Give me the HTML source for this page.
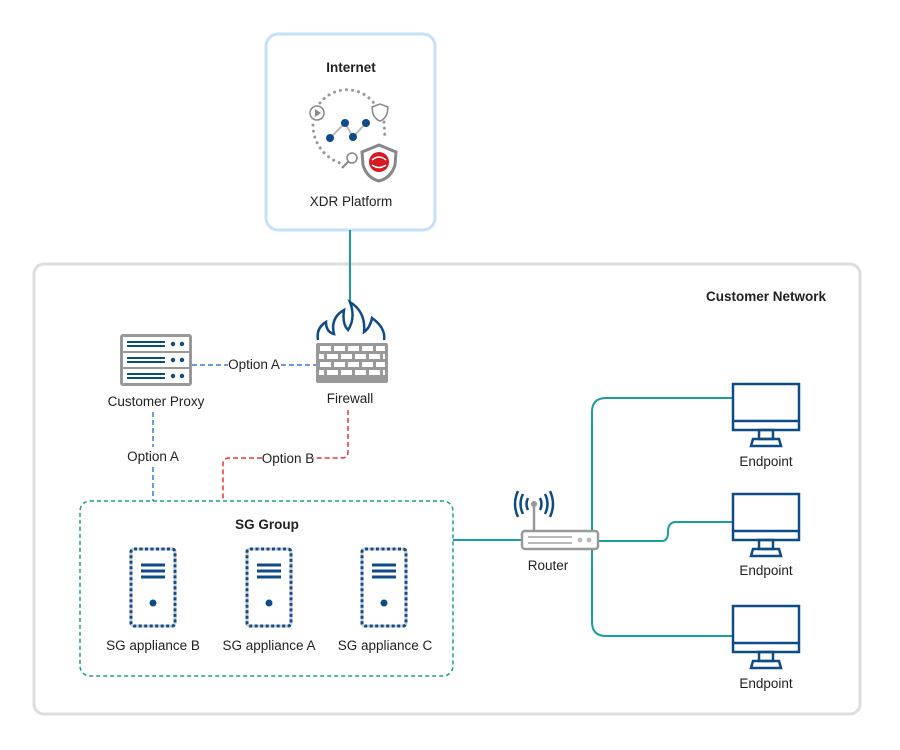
<!DOCTYPE html>
<html><head><meta charset="utf-8"><style>
html,body{margin:0;padding:0;background:#fff}
svg{display:block}
text{font-family:"Liberation Sans",sans-serif;fill:#222;font-size:13.5px}
</style></head><body>
<svg width="900" height="750" viewBox="0 0 900 750" xmlns="http://www.w3.org/2000/svg">
<defs>
<g id="mon">
<rect x="0" y="0" width="66" height="46" fill="#fff" stroke="#0f4c87" stroke-width="2.5"/>
<line x1="0" y1="37" x2="66" y2="37" stroke="#0f4c87" stroke-width="2.5"/>
<rect x="26" y="46" width="14" height="9" fill="none" stroke="#0f4c87" stroke-width="2.5"/>
<path d="M18 62 L48 62 L46 55 L20 55 Z" fill="none" stroke="#0f4c87" stroke-width="2.5"/>
</g>
<g id="app">
<rect x="0" y="0" width="44" height="77" rx="3" fill="#fff" stroke="#ccc" stroke-width="3"/>
<rect x="0" y="0" width="44" height="77" rx="3" fill="none" stroke="#0f4c87" stroke-width="3" stroke-dasharray="3 2.5"/>
<line x1="10" y1="16" x2="34" y2="16" stroke="#0f4c87" stroke-width="3"/>
<line x1="10" y1="22" x2="34" y2="22" stroke="#0f4c87" stroke-width="3"/>
<line x1="10" y1="28" x2="34" y2="28" stroke="#0f4c87" stroke-width="3"/>
<circle cx="22" cy="54" r="3.5" fill="#0f4c87"/>
</g>
</defs>

<rect x="34" y="264" width="826" height="450" rx="10" fill="#fff" stroke="#ddd" stroke-width="3"/>
<text x="826" y="301" text-anchor="end" font-weight="bold" font-size="14.5">Customer Network</text>

<rect x="266" y="34" width="169" height="196" rx="12" fill="#fff" stroke="#c5e0fa" stroke-width="3"/>
<text x="351" y="72" text-anchor="middle" font-weight="bold" font-size="15">Internet</text>
<text x="351" y="206" text-anchor="middle">XDR Platform</text>
<path d="M320 103 A34 34 0 0 1 378 110" fill="none" stroke="#999" stroke-width="3" stroke-dasharray="0.1 6" stroke-linecap="round"/>
<path d="M313 125 A40 40 0 0 0 340 163" fill="none" stroke="#999" stroke-width="3" stroke-dasharray="0.1 6" stroke-linecap="round"/>
<path d="M384 122 L385 138" fill="none" stroke="#999" stroke-width="3" stroke-dasharray="0.1 6" stroke-linecap="round"/>
<circle cx="317" cy="113" r="7" fill="#fff" stroke="#888" stroke-width="1.5"/>
<path d="M315 109 L321 113 L315 117 Z" fill="#888"/>
<path d="M372 107 L380 104 L388 107 L387 114 Q384 120 380 121 Q376 120 373 114 Z" fill="#fff" stroke="#888" stroke-width="1.5"/>
<polyline points="330,138 345,123 353,137 366,123" fill="none" stroke="#bbb" stroke-width="2"/>
<circle cx="330" cy="138" r="4" fill="#0f4c87"/><circle cx="345" cy="123" r="4" fill="#0f4c87"/>
<circle cx="353" cy="137" r="4" fill="#0f4c87"/><circle cx="366" cy="123" r="4" fill="#0f4c87"/>
<circle cx="352" cy="158" r="5" fill="#fff" stroke="#888" stroke-width="1.5"/>
<line x1="348" y1="162" x2="342" y2="168" stroke="#888" stroke-width="2"/>
<path d="M362 152 L379 145 L396 152 L395 165 Q391 178 379 181 Q367 178 363 165 Z" fill="#fff" stroke="#888" stroke-width="3"/>
<circle cx="379" cy="162" r="10" fill="#d71921"/>
<path d="M372 160 Q379 154 386 160 M372 165 Q379 170 386 165" stroke="#fff" stroke-width="1.5" fill="none"/>

<line x1="350" y1="230" x2="350" y2="302" stroke="#1a9e9e" stroke-width="2"/>

<path d="M318 340 Q316 328 326 322 Q326 332 334 334 Q330 318 344 310 Q342 324 348 330 Q356 318 350 302 Q366 312 364 332 Q370 328 372 318 Q386 328 384 340" fill="none" stroke="#0f4c87" stroke-width="2.5"/>
<rect x="316" y="343" width="72" height="40" fill="#999" rx="2"/>
<g fill="#fff">
<rect x="320" y="346" width="11" height="5"/><rect x="334" y="346" width="11" height="5"/><rect x="348" y="346" width="11" height="5"/><rect x="362" y="346" width="11" height="5"/><rect x="376" y="346" width="9" height="5"/>
<rect x="319" y="354" width="5" height="5"/><rect x="327" y="354" width="11" height="5"/><rect x="341" y="354" width="11" height="5"/><rect x="355" y="354" width="11" height="5"/><rect x="369" y="354" width="11" height="5"/><rect x="383" y="354" width="2" height="5"/>
<rect x="320" y="362" width="11" height="5"/><rect x="334" y="362" width="11" height="5"/><rect x="348" y="362" width="11" height="5"/><rect x="362" y="362" width="11" height="5"/><rect x="376" y="362" width="9" height="5"/>
<rect x="319" y="370" width="5" height="5"/><rect x="327" y="370" width="11" height="5"/><rect x="341" y="370" width="11" height="5"/><rect x="355" y="370" width="11" height="5"/><rect x="369" y="370" width="11" height="5"/><rect x="383" y="370" width="2" height="5"/>
</g>
<text x="350" y="403" text-anchor="middle">Firewall</text>

<g>
<rect x="120" y="334" width="72" height="52" rx="3" fill="#999"/>
<rect x="123" y="337" width="66" height="14" fill="#fff"/><rect x="123" y="353" width="66" height="14" fill="#fff"/><rect x="123" y="369" width="66" height="14" fill="#fff"/>
<g stroke="#0f4c87" stroke-width="2">
<line x1="127" y1="342" x2="165" y2="342"/><line x1="127" y1="346" x2="165" y2="346"/>
<line x1="127" y1="358" x2="165" y2="358"/><line x1="127" y1="362" x2="165" y2="362"/>
<line x1="127" y1="374" x2="165" y2="374"/><line x1="127" y1="378" x2="165" y2="378"/>
</g>
<g fill="#0f4c87"><circle cx="173" cy="344" r="2.2"/><circle cx="182" cy="344" r="2.2"/><circle cx="173" cy="360" r="2.2"/><circle cx="182" cy="360" r="2.2"/><circle cx="173" cy="376" r="2.2"/><circle cx="182" cy="376" r="2.2"/></g>
</g>
<text x="156" y="406" text-anchor="middle">Customer Proxy</text>

<line x1="192" y1="365" x2="228" y2="365" stroke="#3b78e7" stroke-width="1.5" stroke-dasharray="5 3"/>
<line x1="281" y1="365" x2="316" y2="365" stroke="#3b78e7" stroke-width="1.5" stroke-dasharray="5 3"/>
<text x="254" y="369" text-anchor="middle" font-size="12">Option A</text>
<line x1="153" y1="412" x2="153" y2="447" stroke="#3b78e7" stroke-width="1.5" stroke-dasharray="5 3"/>
<line x1="153" y1="467" x2="153" y2="501" stroke="#3b78e7" stroke-width="1.5" stroke-dasharray="5 3"/>
<text x="153" y="461" text-anchor="middle" font-size="12">Option A</text>

<path d="M348 410 L348 452 Q348 458 342 458 L313 458" fill="none" stroke="#e03c3c" stroke-width="1.5" stroke-dasharray="5 3"/>
<path d="M262 458 L229 458 Q223 458 223 464 L223 501" fill="none" stroke="#e03c3c" stroke-width="1.5" stroke-dasharray="5 3"/>
<text x="288" y="463" text-anchor="middle" font-size="12">Option B</text>

<rect x="80" y="501" width="373" height="175" rx="10" fill="#fff" stroke="#1aa08a" stroke-width="1.5" stroke-dasharray="4 3"/>
<text x="267" y="529" text-anchor="middle" font-weight="bold">SG Group</text>
<use href="#app" x="131" y="549"/><use href="#app" x="247" y="549"/><use href="#app" x="362" y="549"/>
<text x="153" y="650" text-anchor="middle">SG appliance B</text>
<text x="269" y="650" text-anchor="middle">SG appliance A</text>
<text x="385" y="650" text-anchor="middle">SG appliance C</text>

<line x1="453" y1="540" x2="522" y2="540" stroke="#1a9e9e" stroke-width="2"/>
<path d="M734 398 L606 398 Q592 398 592 412 L592 622 Q592 636 606 636 L734 636" fill="none" stroke="#1a9e9e" stroke-width="2"/>
<path d="M598 541 L662 541 Q668 541 668 532 Q668 522 676 522 L734 522" fill="none" stroke="#1a9e9e" stroke-width="2"/>
<line x1="534" y1="505" x2="534" y2="531" stroke="#999" stroke-width="2.5"/>
<circle cx="534" cy="504" r="3" fill="#999"/>
<g fill="none" stroke="#0f4c87" stroke-width="2.5">
<path d="M528 498 Q525 504 528 510"/><path d="M540 498 Q543 504 540 510"/>
<path d="M523 494 Q518 504 523 514"/><path d="M545 494 Q550 504 545 514"/>
<path d="M518 491 Q512 504 518 517"/><path d="M550 491 Q556 504 550 517"/>
</g>
<rect x="522" y="531" width="76" height="18" rx="3" fill="#fff" stroke="#999" stroke-width="2.5"/>
<line x1="528" y1="537" x2="572" y2="537" stroke="#bbb" stroke-width="2"/>
<line x1="528" y1="543" x2="572" y2="543" stroke="#bbb" stroke-width="2"/>
<circle cx="580" cy="540" r="2.5" fill="#bbb"/><circle cx="589" cy="540" r="2.5" fill="#bbb"/>
<text x="548" y="570" text-anchor="middle">Router</text>

<use href="#mon" x="733" y="384"/>
<use href="#mon" x="733" y="494"/>
<use href="#mon" x="733" y="606"/>
<text x="766" y="466" text-anchor="middle">Endpoint</text>
<text x="766" y="575" text-anchor="middle">Endpoint</text>
<text x="766" y="688" text-anchor="middle">Endpoint</text>
</svg>
</body></html>
